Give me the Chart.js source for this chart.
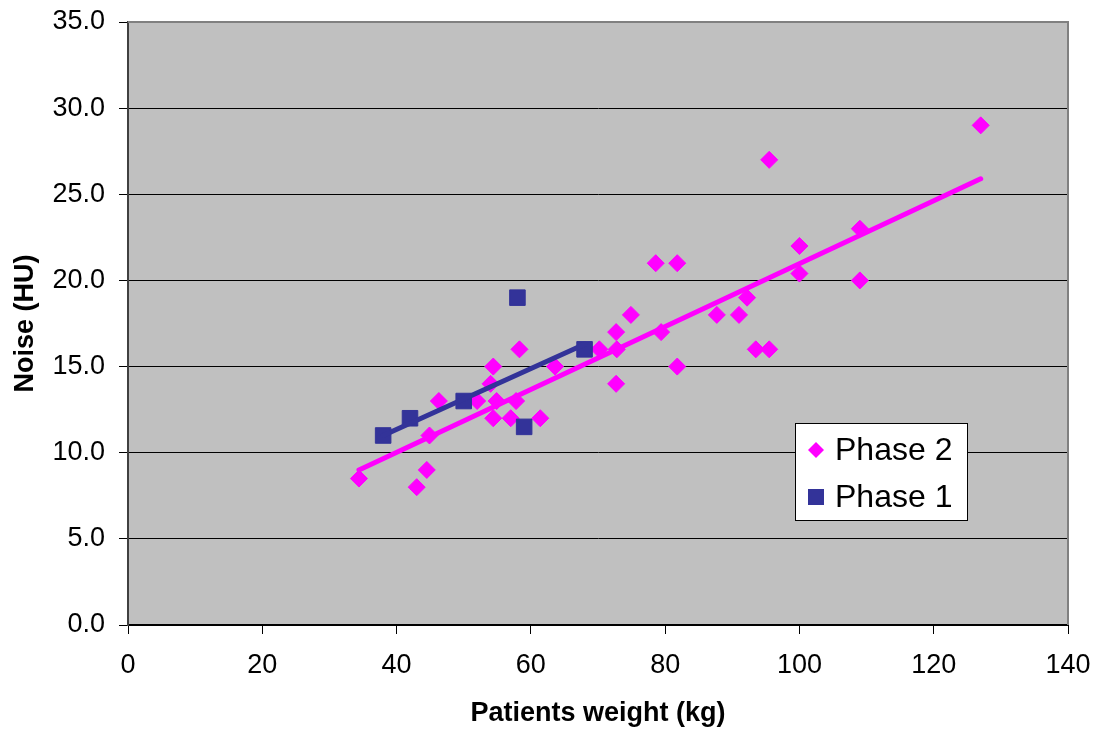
<!DOCTYPE html>
<html>
<head>
<meta charset="utf-8">
<script src="https://cdn.jsdelivr.net/npm/chart.js@4"></script>
<style>
  body { margin: 0; background: #fff; }
  #wrap { width: 1097px; height: 734px; position: relative; }
</style>
</head>
<body>
<div id="wrap"><canvas id="grafico"></canvas></div>
<script>
// values
var phase2Weight = [34.4, 43.0, 44.5, 44.9, 46.3, 52.0, 54.4, 54.0, 54.9, 54.4, 57.0, 57.8, 58.3, 61.4, 63.6, 70.2, 72.7, 72.8, 72.7, 74.9, 79.4, 81.8, 78.6, 81.8, 87.7, 91.0, 92.2, 93.5, 95.5, 95.5, 100.0, 100.0, 109.0, 109.0, 127.0];
var phase2Noise  = [8.5, 8.0, 9.0, 11.0, 13.0, 13.0, 15.0, 14.0, 13.0, 12.0, 12.0, 13.0, 16.0, 12.0, 15.0, 16.0, 17.0, 16.0, 14.0, 18.0, 17.0, 15.0, 21.0, 21.0, 18.0, 18.0, 19.0, 16.0, 16.0, 27.0, 22.0, 20.4, 23.0, 20.0, 29.0];

var phase1Weight = [38, 42, 50, 58, 59, 68];
var phase1Noise  = [11, 12, 13, 19, 11.5, 16];

// linear trendlines (end points)
var phase2TrendWeight = [34.4, 127];
var phase2TrendNoise  = [9.0, 25.9];
var phase1TrendWeight = [38, 68];
var phase1TrendNoise  = [11.0, 16.3];

var seriesNames = ['Phase 2', 'Phase 1'];
var xTicks = [0, 20, 40, 60, 80, 100, 120, 140];
var yTicks = [0, 5, 10, 15, 20, 25, 30, 35];

var FUENTE = '"Liberation Sans", Arial, sans-serif';
var MAGENTA = '#FF00FF';
var AZUL = '#333399';

function puntos(xs, ys) {
    var out = [];
    for (var i = 0; i < xs.length; i++) {
        out.push({ x: xs[i], y: ys[i] });
    }
    return out;
}

// fondo gris y borde del area del grafico
var fondoPlugin = {
    id: 'fondo',
    beforeDraw: function(chart) {
        var a = chart.chartArea, ctx = chart.ctx;
        ctx.save();
        ctx.fillStyle = '#C0C0C0';
        ctx.fillRect(a.left, a.top, a.right - a.left, a.bottom - a.top);
        ctx.restore();
    },
    afterDraw: function(chart) {
        var a = chart.chartArea, ctx = chart.ctx;
        ctx.save();
        ctx.strokeStyle = '#808080';
        ctx.lineWidth = 2;
        ctx.beginPath();
        ctx.moveTo(a.left, a.top);
        ctx.lineTo(a.right, a.top);
        ctx.lineTo(a.right, a.bottom);
        ctx.stroke();
        ctx.restore();
    }
};

// leyenda dentro del area del grafico
var leyendaPlugin = {
    id: 'leyenda',
    afterDraw: function(chart) {
        var ctx = chart.ctx;
        var bx = 795.5, by = 423.5, bw = 172, bh = 97;
        ctx.save();
        ctx.fillStyle = '#FFFFFF';
        ctx.fillRect(bx, by, bw, bh);
        ctx.strokeStyle = '#000000';
        ctx.lineWidth = 1;
        ctx.strokeRect(bx, by, bw, bh);

        // diamante
        ctx.fillStyle = MAGENTA;
        ctx.beginPath();
        ctx.moveTo(816, 442);
        ctx.lineTo(824, 450);
        ctx.lineTo(816, 458);
        ctx.lineTo(808, 450);
        ctx.closePath();
        ctx.fill();

        // cuadrado
        ctx.fillStyle = AZUL;
        ctx.fillRect(808, 489, 16, 16);

        ctx.fillStyle = '#000000';
        ctx.font = '32px ' + FUENTE;
        ctx.textBaseline = 'middle';
        ctx.textAlign = 'left';
        ctx.fillText(seriesNames[0], 835, 451);
        ctx.fillText(seriesNames[1], 835, 498);
        ctx.restore();
    }
};

new Chart(document.getElementById('grafico').getContext('2d'), {
    type: 'scatter',
    data: {
        datasets: [
            {
                label: seriesNames[0] + ' trend',
                data: puntos(phase2TrendWeight, phase2TrendNoise),
                showLine: true,
                borderColor: MAGENTA,
                borderWidth: 5,
                borderCapStyle: 'round',
                pointRadius: 0
            },
            {
                label: seriesNames[1] + ' trend',
                data: puntos(phase1TrendWeight, phase1TrendNoise),
                showLine: true,
                borderColor: AZUL,
                borderWidth: 5,
                borderCapStyle: 'round',
                pointRadius: 0
            },
            {
                label: seriesNames[1],
                data: puntos(phase1Weight, phase1Noise),
                pointStyle: 'rect',
                pointRadius: 11,
                pointBackgroundColor: AZUL,
                pointBorderColor: AZUL,
                pointBorderWidth: 1
            },
            {
                label: seriesNames[0],
                data: puntos(phase2Weight, phase2Noise),
                pointStyle: 'rectRot',
                pointRadius: 8.5,
                pointBackgroundColor: MAGENTA,
                pointBorderColor: MAGENTA,
                pointBorderWidth: 1
            }
        ]
    },
    options: {
        responsive: true,
        maintainAspectRatio: false,
        animation: false,
        devicePixelRatio: 1,
        layout: { padding: { top: 22, right: 29, left: 0, bottom: 0 } },
        plugins: {
            legend: { display: false },
            tooltip: { enabled: false }
        },
        scales: {
            x: {
                type: 'linear',
                min: xTicks[0],
                max: xTicks[xTicks.length - 1],
                afterFit: function(scale) {
                    scale.height = 109;
                    scale.paddingLeft = 0;
                    scale.paddingRight = 0;
                },
                afterBuildTicks: function(scale) {
                    scale.ticks = xTicks.map(function(v) { return { value: v }; });
                },
                ticks: {
                    color: '#000',
                    font: { family: FUENTE, size: 27 },
                    padding: 15,
                    maxRotation: 0
                },
                grid: {
                    drawOnChartArea: false,
                    drawTicks: true,
                    tickLength: 9,
                    color: '#000'
                },
                border: { color: '#000', width: 2 },
                title: {
                    display: true,
                    text: 'Patients weight (kg)',
                    color: '#000',
                    font: { family: FUENTE, size: 27, weight: 'bold' },
                    padding: { top: 0, bottom: 4 }
                }
            },
            y: {
                type: 'linear',
                min: yTicks[0],
                max: yTicks[yTicks.length - 1],
                afterFit: function(scale) {
                    scale.width = 128;
                    scale.paddingTop = 0;
                    scale.paddingBottom = 0;
                },
                afterBuildTicks: function(scale) {
                    scale.ticks = yTicks.map(function(v) { return { value: v }; });
                },
                ticks: {
                    color: '#000',
                    font: { family: FUENTE, size: 27 },
                    padding: 14,
                    callback: function(v) { return Number(v).toFixed(1); }
                },
                grid: {
                    color: '#000',
                    lineWidth: 1,
                    tickLength: 9
                },
                border: { color: '#404040', width: 2 },
                title: {
                    display: true,
                    text: 'Noise (HU)',
                    color: '#000',
                    font: { family: FUENTE, size: 27, weight: 'bold' },
                    padding: { top: 9, bottom: 0 }
                }
            }
        }
    },
    plugins: [fondoPlugin, leyendaPlugin]
});
</script>
</body>
</html>
